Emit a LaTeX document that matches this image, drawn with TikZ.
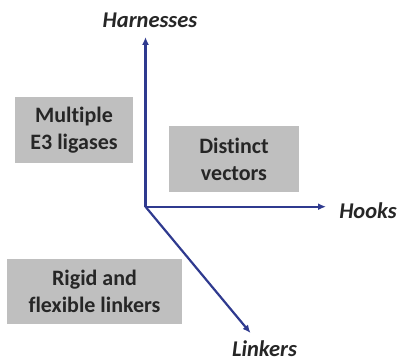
\documentclass[tikz,border=0pt]{standalone}
\usepackage{fontspec}
\setmainfont[Ligatures=NoCommon]{Carlito}
\usetikzlibrary{arrows.meta}
\definecolor{axisblue}{HTML}{2F3A8F}
\definecolor{boxgray}{HTML}{BFBFBF}
\definecolor{txtdark}{HTML}{262626}
\tikzset{
  gbox/.style={fill=boxgray, draw=none, text=txtdark, align=center,
    font=\fontsize{22}{27}\selectfont\bfseries, inner sep=0pt},
  axlabel/.style={text=txtdark, font=\fontsize{22.5}{26}\selectfont\bfseries\itshape, inner sep=0pt},
  axis/.style={draw=axisblue, line width=2.2pt, -{Latex[length=8pt,width=7pt]}}
}
\begin{document}
\begin{tikzpicture}[x=1pt,y=1pt]
\useasboundingbox (0,0) rectangle (403,361);
\coordinate (O) at (145.5,154.3);
\coordinate (tH) at (145.5,324);
\coordinate (tK) at (326,154.3);
\coordinate (tL) at (250.5,28);
\draw[axis] (O) -- (tH);
\draw[axis] (O) -- (tK);
\draw[axis] (O) -- (tL);
\node[axlabel] (harn) at (150,341) {Harnesses};
\node[axlabel] (hooks) at (368,150) {Hooks};
\node[axlabel] (link) at (264.5,12.5) {Linkers};
\node[gbox, minimum width=118pt, minimum height=66pt] (b1) at (74,231) {Multiple\\E3 ligases};
\node[gbox, minimum width=130pt, minimum height=66pt] (b2) at (234,202) {Distinct\\vectors};
\node[gbox, minimum width=175pt, minimum height=65pt] (b3) at (94.5,69.5) {Rigid and\\flexible linkers};
\end{tikzpicture}
\end{document}
